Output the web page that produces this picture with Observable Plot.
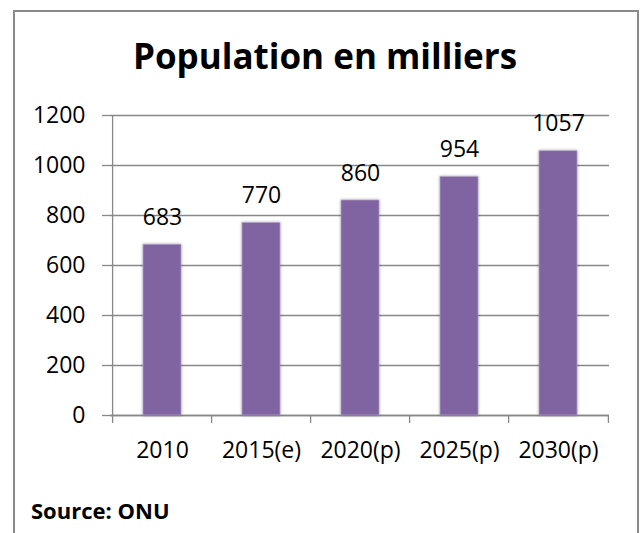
<!DOCTYPE html>
<html>
<head>
<meta charset="utf-8">
<script src="https://cdn.jsdelivr.net/npm/d3@7"></script>
<script src="https://cdn.jsdelivr.net/npm/@observablehq/plot@0.6"></script>
<style>
  html, body { margin: 0; padding: 0; background: #fff; }
  #frame { position: absolute; left: 13px; top: 10px; width: 622px; height: 600px; border: 2px solid #8a8a8a; border-bottom: none; }
  #wrap { position: absolute; left: 0; top: 0; width: 642px; }
  #title { box-sizing: border-box; height: 95px; padding-top: 38px; font: bold 35px "Open Sans", sans-serif; line-height: 36px; text-align: center; color: #000; padding-left: 8px; }
  #chart svg { display: block; }
  #source { margin-top: 30px; padding-left: 31px; font: bold 22px "Open Sans", sans-serif; line-height: 21px; color: #000; }
</style>
</head>
<body>
<div id="frame"></div>
<div id="wrap">
  <div id="title">Population en milliers</div>
  <div id="chart"></div>
  <div id="source">Source: ONU</div>
</div>
<script>
const categories = ["2010", "2015(e)", "2020(p)", "2025(p)", "2030(p)"];
const values = [683, 770, 860, 954, 1057];
const yTicks = [0, 200, 400, 600, 800, 1000, 1200];

const data = categories.map((c, i) => ({cat: c, value: values[i]}));

const W = 642, mL = 110, mR = 33;
const step = (W - mL - mR) / categories.length;
const gray = "#888888";

const chart = Plot.plot({
  width: W,
  height: 375,
  marginTop: 20,
  marginBottom: 55,
  marginLeft: mL,
  marginRight: mR,
  style: {fontFamily: "'Open Sans', sans-serif", fontSize: "23px", color: "#000", background: "transparent", overflow: "visible"},
  x: {domain: categories, paddingInner: 0.62, paddingOuter: 0.31, align: 0.5},
  y: {domain: [0, 1200]},
  marks: [
    Plot.gridY(yTicks, {stroke: gray, strokeOpacity: 1, strokeWidth: 1.3}),
    Plot.axisY(yTicks, {tickSize: 8, tickPadding: 17, stroke: gray, strokeWidth: 1.3, fill: "#000", label: null, tickFormat: d => String(d)}),
    Plot.ruleX([categories[0]], {x: d => d, dx: -step / 2, y1: 1200, y2: 0, insetBottom: -8, stroke: gray, strokeWidth: 1.3}),
    Plot.ruleX(categories.slice(1), {x: d => d, dx: -step / 2, y1: 0, y2: 0, insetBottom: -8, stroke: gray, strokeWidth: 1.3}),
    Plot.ruleX(categories.slice(-1), {x: d => d, dx: step / 2, y1: 0, y2: 0, insetBottom: -8, stroke: gray, strokeWidth: 1.3}),
    Plot.ruleY([0], {stroke: gray, strokeWidth: 1.3}),
    Plot.barY(data, {x: "cat", y: "value", fill: "#8064A2", stroke: "#b9a9cf", strokeWidth: 0.6}),
    Plot.text(data, {x: "cat", y: "value", text: d => String(d.value), lineAnchor: "bottom", dy: -20, fill: "#000"}),
    Plot.axisX({tickSize: 0, tickPadding: 26, label: null, fill: "#000"})
  ]
});

d3.select(chart).selectAll("rect").filter(function() { return this.getAttribute("fill") === "#8064A2" || (this.parentNode && this.parentNode.getAttribute("fill") === "#8064A2"); })
  .style("filter", "drop-shadow(0 0 1.5px rgba(0,0,0,0.35))");

document.getElementById("chart").appendChild(chart);
</script>
</body>
</html>
